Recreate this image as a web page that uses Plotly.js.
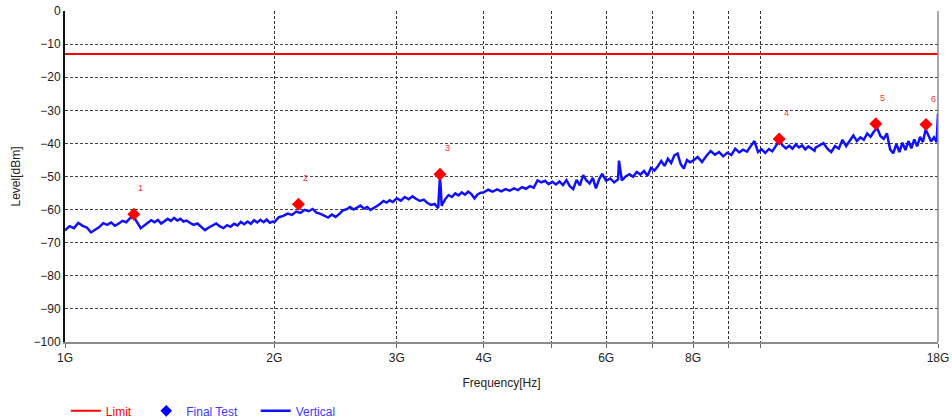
<!DOCTYPE html>
<html>
<head>
<meta charset="utf-8">
<script src="https://cdn.plot.ly/plotly-3.0.1.min.js"></script>
<style>html,body{margin:0;padding:0;background:#fff;}#chart{width:952px;height:420px;}</style>
</head>
<body>
<div id="chart"></div>
<script>
// ---- Data (frequencies in GHz, levels in dBm) ----
const tickVals = [1, 2, 3, 4, 5, 6, 7, 8, 9, 10, 18];
const tickText = ['1G', '2G', '3G', '4G', '', '6G', '', '8G', '', '', '18G'];

const limitFreq = [1, 18];
const limitLevel = [-13, -13];

const markerFreq = [1.256, 2.166, 3.461, 10.64, 14.65, 17.30];
const markerLevel = [-61.4, -58.4, -49.3, -38.7, -34.1, -34.3];
const markerLabels = ['1', '2', '3', '4', '5', '6'];

const vertFreq = [
  1.000,1.015,1.030,1.045,1.060,1.075,1.090,1.105,1.120,1.135,1.150,1.165,1.180,1.195,1.210,1.225,1.240,
  1.255,1.270,1.285,1.300,1.315,1.330,1.345,1.360,1.375,1.390,1.405,1.420,1.435,1.450,1.465,1.480,1.495,
  1.51,1.53,1.55,1.57,1.59,1.61,1.63,1.65,1.67,1.69,1.71,1.73,1.75,1.77,1.79,1.81,1.83,1.85,1.87,1.89,
  1.91,1.93,1.95,1.97,1.99,
  2.00,2.03,2.06,2.09,2.12,2.15,2.18,2.21,2.24,2.27,2.30,2.33,2.36,2.39,2.42,2.45,2.48,2.51,2.54,2.57,
  2.60,2.63,2.66,2.69,2.72,2.75,2.78,2.81,2.84,2.87,2.90,2.93,2.96,2.99,
  3.00,3.04,3.08,3.12,3.16,3.20,3.24,3.28,3.32,3.36,3.40,3.44,3.45,3.46,3.47,3.48,3.52,3.56,3.60,3.64,
  3.68,3.72,3.76,3.80,3.84,3.88,3.92,3.96,
  4.00,4.06,4.12,4.18,4.24,4.30,4.36,4.42,4.48,4.54,4.60,4.66,4.72,4.78,4.84,4.90,4.96,5.02,5.08,5.14,
  5.20,5.26,5.32,5.38,5.44,5.50,5.56,5.62,5.68,5.74,5.80,5.86,5.92,5.98,
  6.00,6.08,6.16,6.24,6.26,6.32,6.40,6.48,6.56,6.64,6.72,6.80,6.88,6.96,7.04,7.12,7.20,7.28,7.36,7.44,
  7.52,7.60,7.68,7.76,7.84,7.92,
  8.00,8.12,8.24,8.36,8.48,8.60,8.72,8.84,8.96,9.08,9.20,9.32,9.44,9.56,9.68,9.80,9.92,10.04,10.16,10.28,
  10.40,10.52,10.64,10.76,10.88,11.00,11.12,11.24,11.36,11.48,11.60,11.72,11.84,11.96,
  12.00,12.16,12.32,12.48,12.64,12.80,12.96,13.12,13.28,13.44,13.60,13.76,13.92,14.08,14.24,14.40,14.56,
  14.72,14.88,15.04,15.20,15.36,15.52,15.68,15.84,16.00,16.16,16.32,16.48,16.64,16.80,16.96,17.12,17.28,
  17.44,17.60,17.76,17.92,18.00
];
const vertLevel = [
  -66.3,-65.0,-65.6,-64.0,-64.9,-65.4,-66.9,-66.2,-65.3,-64.1,-64.6,-63.9,-64.9,-64.2,-63.4,-63.8,-62.6,
  -62.1,-63.9,-65.6,-64.8,-63.9,-63.2,-63.8,-63.1,-64.2,-63.6,-62.8,-63.4,-62.5,-63.3,-62.8,-63.6,-63.3,
  -63.9,-64.6,-64.2,-65.3,-66.2,-65.4,-64.8,-64.2,-65.1,-65.6,-64.7,-65.2,-64.3,-64.8,-63.7,-64.4,-63.6,-64.3,-63.2,-63.9,
  -63.1,-63.8,-63.0,-64.0,-63.6,
  -63.8,-62.3,-61.9,-61.2,-61.6,-60.6,-61.0,-60.1,-60.5,-59.8,-60.9,-61.3,-61.9,-62.4,-61.5,-62.2,-61.3,-60.2,-59.9,-59.2,
  -60.0,-59.3,-58.8,-59.7,-59.2,-60.1,-59.6,-58.9,-58.2,-57.4,-57.9,-57.2,-57.7,-56.9,
  -56.6,-57.3,-56.2,-56.9,-56.0,-56.8,-57.4,-57.0,-58.0,-58.6,-58.3,-59.6,-55.0,-50.2,-53.5,-58.8,-56.9,-55.6,-56.2,-55.1,
  -55.7,-54.8,-55.5,-54.6,-55.3,-56.6,-55.4,-54.9,
  -54.8,-54.0,-54.6,-53.9,-54.5,-53.8,-54.3,-53.6,-54.1,-53.2,-53.7,-52.9,-53.4,-51.2,-51.8,-51.3,-52.3,-51.6,-52.4,-51.5,
  -52.6,-51.1,-52.9,-53.8,-51.0,-52.7,-49.6,-51.2,-52.1,-50.4,-53.6,-50.9,-49.2,-50.8,
  -51.3,-50.6,-51.8,-50.9,-45.2,-51.2,-50.0,-49.3,-50.1,-48.6,-49.4,-48.3,-49.8,-47.4,-48.2,-46.9,-45.3,-46.8,-44.6,-45.9,
  -43.6,-43.1,-46.3,-47.6,-45.0,-45.7,
  -45.2,-44.1,-45.6,-43.8,-42.3,-43.4,-42.6,-43.9,-42.8,-43.5,-41.6,-42.7,-41.9,-42.5,-40.8,-39.3,-42.6,-41.8,-42.9,-41.7,
  -42.4,-40.9,-39.2,-40.6,-41.5,-40.7,-41.6,-40.3,-41.2,-40.6,-41.8,-40.9,-41.5,-42.2,
  -41.3,-40.6,-39.9,-41.6,-42.6,-40.8,-41.6,-38.9,-40.8,-39.2,-37.6,-39.3,-38.2,-38.9,-37.0,-38.0,-36.4,
  -35.4,-37.8,-38.6,-37.0,-41.8,-43.0,-40.2,-42.6,-39.8,-42.0,-39.3,-41.5,-38.8,-40.9,-38.0,-39.6,-35.8,
  -37.6,-39.4,-38.2,-39.6,-31.0
];

const FONT = 'Arial, "Liberation Sans", sans-serif';
const NB = '\u00a0';

const traces = [
  {
    x: limitFreq, y: limitLevel, type: 'scatter', mode: 'lines',
    name: '<span style="color:#ff0000">Limit</span>' + NB.repeat(3),
    line: {color: '#ff0000', width: 2}, hoverinfo: 'skip'
  },
  {
    x: [null], y: [null], type: 'scatter', mode: 'markers',
    name: '<span style="color:#3a3aff">Final Test</span>' + NB.repeat(4),
    marker: {symbol: 'diamond', color: '#0000ff', size: 9}
  },
  {
    x: vertFreq, y: vertLevel, type: 'scatter', mode: 'lines',
    name: '<span style="color:#3a3aff">Vertical</span>',
    line: {color: '#1010ff', width: 2.5}
  },
  {
    x: markerFreq, y: markerLevel, type: 'scatter', mode: 'markers',
    showlegend: false,
    marker: {symbol: 'diamond', color: '#ff0000', size: 10}
  }
];

const annotations = markerFreq.map((f, i) => ({
  x: Math.log10(f), y: markerLevel[i], xref: 'x', yref: 'y',
  text: markerLabels[i], showarrow: false,
  xshift: 7, yshift: 26,
  font: {family: FONT, size: 9, color: '#ff3030'}
}));

const layout = {
  width: 952, height: 420,
  margin: {l: 65, r: 14, t: 11, b: 78, autoexpand: false},
  paper_bgcolor: '#ffffff', plot_bgcolor: '#ffffff',
  font: {family: FONT, size: 12, color: '#222'},
  showlegend: true,
  legend: {
    orientation: 'h', x: 0.001, xanchor: 'left', y: -0.208, yanchor: 'middle',
    font: {family: FONT, size: 12}, bgcolor: 'rgba(0,0,0,0)'
  },
  xaxis: {
    type: 'log', range: [0, Math.log10(18)],
    tickmode: 'array', tickvals: tickVals, ticktext: tickText,
    showgrid: true, gridcolor: '#333', griddash: '3px,2px', gridwidth: 1,
    ticks: 'outside', ticklen: 4, tickcolor: '#666',
    showline: true, linecolor: '#8c8c8c', linewidth: 2,
    zeroline: false,
    tickfont: {family: FONT, size: 12, color: '#222'},
    title: {text: 'Frequency[Hz]', font: {family: FONT, size: 12, color: '#222'}, standoff: 14}
  },
  yaxis: {
    range: [-100, 0], dtick: 10, tick0: 0,
    showgrid: true, gridcolor: '#444', griddash: '3px,2px', gridwidth: 1,
    ticks: '', showline: true, linecolor: '#111', linewidth: 2,
    zeroline: false,
    tickfont: {family: FONT, size: 12, color: '#222'},
    title: {text: 'Level[dBm]', font: {family: FONT, size: 12, color: '#222'}, standoff: 10}
  },
  shapes: [
    {type: 'line', xref: 'paper', yref: 'paper', x0: 1, x1: 1, y0: 0, y1: 1,
     line: {color: '#8c8c8c', width: 1.5}}
  ],
  annotations: annotations
};

Plotly.newPlot('chart', traces, layout, {displayModeBar: false, staticPlot: true});
</script>
</body>
</html>
